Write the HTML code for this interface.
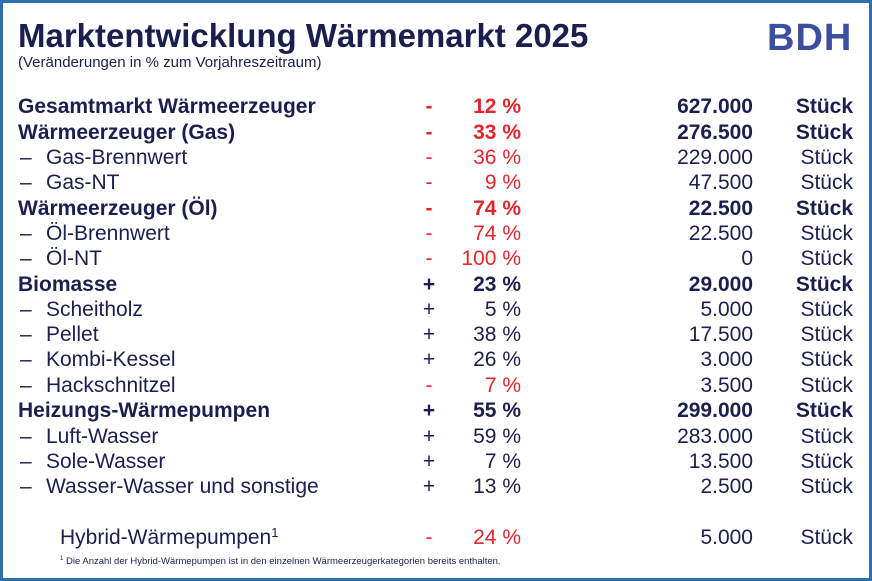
<!DOCTYPE html>
<html><head><meta charset="utf-8"><style>
*{margin:0;padding:0}
body{width:872px;height:581px;position:relative;background:#fff;font-family:"Liberation Sans",Arial,sans-serif;color:#1b1f4d;overflow:hidden}
.frame{position:absolute;left:0;top:0;width:866px;height:575px;border:3px solid #2e6fae}
.t{position:absolute;white-space:nowrap;line-height:1}
.r{position:absolute;left:0;width:872px;height:22px;font-size:21px}
.r span{position:absolute;top:0;white-space:nowrap;line-height:22px}
.b{font-weight:bold}
.red{color:#e2262c}
.l{left:18px}.ld{left:20px}.lt{left:46px}
.s{left:420px;width:18px;text-align:center}
.p{right:351px;text-align:right}
.n{right:119px;text-align:right}
.u{right:19px;text-align:right}
</style></head><body>
<div class="frame"></div>
<div class="t b" style="left:18px;top:19px;font-size:33px">Marktentwicklung Wärmemarkt 2025</div>
<div class="t" style="left:18px;top:55px;font-size:15px">(Veränderungen in % zum Vorjahreszeitraum)</div>
<div class="t b" style="left:767px;top:19px;font-size:38px;color:#3b4ea0;letter-spacing:1px">BDH</div>

<div class="r b" style="top:96px"><span class="l">Gesamtmarkt Wärmeerzeuger</span><span class="s red">-</span><span class="p red">12 %</span><span class="n">627.000</span><span class="u">Stück</span></div>
<div class="r b" style="top:122px"><span class="l">Wärmeerzeuger (Gas)</span><span class="s red">-</span><span class="p red">33 %</span><span class="n">276.500</span><span class="u">Stück</span></div>
<div class="r" style="top:147px"><span class="ld">–</span><span class="lt">Gas-Brennwert</span><span class="s red">-</span><span class="p red">36 %</span><span class="n">229.000</span><span class="u">Stück</span></div>
<div class="r" style="top:172px"><span class="ld">–</span><span class="lt">Gas-NT</span><span class="s red">-</span><span class="p red">9 %</span><span class="n">47.500</span><span class="u">Stück</span></div>
<div class="r b" style="top:198px"><span class="l">Wärmeerzeuger (Öl)</span><span class="s red">-</span><span class="p red">74 %</span><span class="n">22.500</span><span class="u">Stück</span></div>
<div class="r" style="top:223px"><span class="ld">–</span><span class="lt">Öl-Brennwert</span><span class="s red">-</span><span class="p red">74 %</span><span class="n">22.500</span><span class="u">Stück</span></div>
<div class="r" style="top:248px"><span class="ld">–</span><span class="lt">Öl-NT</span><span class="s red">-</span><span class="p red">100 %</span><span class="n">0</span><span class="u">Stück</span></div>
<div class="r b" style="top:274px"><span class="l">Biomasse</span><span class="s">+</span><span class="p">23 %</span><span class="n">29.000</span><span class="u">Stück</span></div>
<div class="r" style="top:299px"><span class="ld">–</span><span class="lt">Scheitholz</span><span class="s">+</span><span class="p">5 %</span><span class="n">5.000</span><span class="u">Stück</span></div>
<div class="r" style="top:324px"><span class="ld">–</span><span class="lt">Pellet</span><span class="s">+</span><span class="p">38 %</span><span class="n">17.500</span><span class="u">Stück</span></div>
<div class="r" style="top:349px"><span class="ld">–</span><span class="lt">Kombi-Kessel</span><span class="s">+</span><span class="p">26 %</span><span class="n">3.000</span><span class="u">Stück</span></div>
<div class="r" style="top:375px"><span class="ld">–</span><span class="lt">Hackschnitzel</span><span class="s red">-</span><span class="p red">7 %</span><span class="n">3.500</span><span class="u">Stück</span></div>
<div class="r b" style="top:400px"><span class="l">Heizungs-Wärmepumpen</span><span class="s">+</span><span class="p">55 %</span><span class="n">299.000</span><span class="u">Stück</span></div>
<div class="r" style="top:426px"><span class="ld">–</span><span class="lt">Luft-Wasser</span><span class="s">+</span><span class="p">59 %</span><span class="n">283.000</span><span class="u">Stück</span></div>
<div class="r" style="top:451px"><span class="ld">–</span><span class="lt">Sole-Wasser</span><span class="s">+</span><span class="p">7 %</span><span class="n">13.500</span><span class="u">Stück</span></div>
<div class="r" style="top:476px"><span class="ld">–</span><span class="lt">Wasser-Wasser und sonstige</span><span class="s">+</span><span class="p">13 %</span><span class="n">2.500</span><span class="u">Stück</span></div>
<div class="r" style="top:527px"><span style="left:60px">Hybrid-Wärmepumpen<sup style="font-size:13px;vertical-align:7px;line-height:0">1</sup></span><span class="s red">-</span><span class="p red">24 %</span><span class="n">5.000</span><span class="u">Stück</span></div>
<div class="t" style="left:60px;top:556px;font-size:9.5px"><sup style="font-size:6px">1</sup> Die Anzahl der Hybrid-Wärmepumpen ist in den einzelnen Wärmeerzeugerkategorien bereits enthalten.</div>
</body></html>
